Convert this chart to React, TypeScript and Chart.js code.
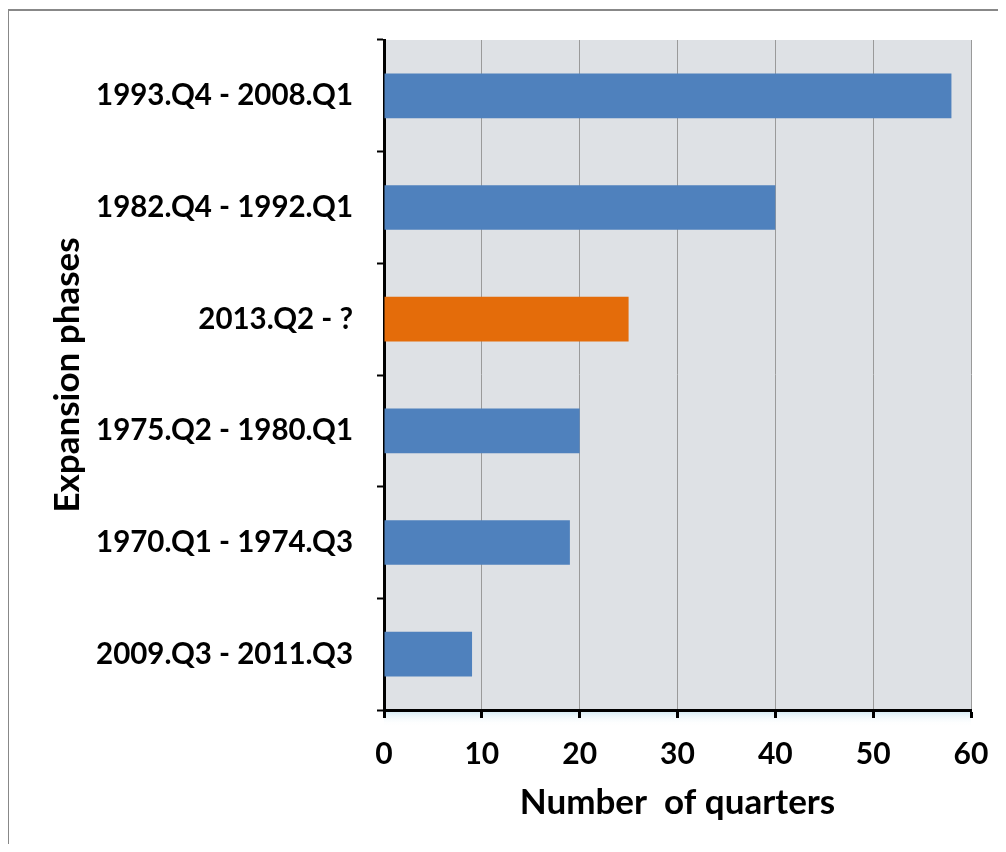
import React, { useEffect, useRef } from "react";
import { Chart, registerables } from "chart.js";

Chart.register(...registerables);

const categories = [
  "1993.Q4 - 2008.Q1",
  "1982.Q4 - 1992.Q1",
  "2013.Q2 - ?",
  "1975.Q2 - 1980.Q1",
  "1970.Q1 - 1974.Q3",
  "2009.Q3 - 2011.Q3",
];
const quarters = [58, 40, 25, 20, 19, 9];
const barColors = ["#4f81bd", "#4f81bd", "#e46c0a", "#4f81bd", "#4f81bd", "#4f81bd"];
const xTitle = "Number  of quarters";
const yTitle = "Expansion phases";

const FONT = "Lato, 'Open Sans', sans-serif";

const bgPlugin = {
  id: "plotBg",
  beforeDraw(chart: any) {
    const { ctx, chartArea } = chart;
    if (!chartArea) return;
    ctx.save();
    ctx.fillStyle = "#dee1e5";
    ctx.fillRect(chartArea.left, chartArea.top, chartArea.right - chartArea.left, chartArea.bottom - chartArea.top);
    const g = ctx.createLinearGradient(0, chartArea.bottom, 0, chartArea.bottom + 16);
    g.addColorStop(0, "rgba(200,228,240,0.9)");
    g.addColorStop(1, "rgba(255,255,255,0)");
    ctx.fillStyle = g;
    ctx.fillRect(chartArea.left, chartArea.bottom, chartArea.right - chartArea.left, 16);
    ctx.restore();
  },
};

export default function App() {
  const ref = useRef<HTMLCanvasElement | null>(null);
  useEffect(() => {
    if (!ref.current) return;
    const chart = new Chart(ref.current, {
      type: "bar",
      data: {
        labels: categories,
        datasets: [
          {
            data: quarters,
            backgroundColor: barColors,
            borderWidth: 0,
            barPercentage: 0.4,
            categoryPercentage: 1,
          },
        ],
      },
      plugins: [bgPlugin],
      options: {
        indexAxis: "y",
        animation: false,
        responsive: false,
        maintainAspectRatio: false,
        layout: { padding: { left: 0, top: 32, right: 27, bottom: 0 } },
        plugins: { legend: { display: false }, tooltip: { enabled: false } },
        scales: {
          x: {
            min: 0,
            max: 60,
            ticks: {
              stepSize: 10,
              color: "#000",
              padding: 18,
              font: { family: FONT, size: 30, weight: "bold" },
            },
            grid: {
              color: "#9a9a9a",
              lineWidth: 1,
              tickColor: "#000",
              tickWidth: 3,
              tickLength: 8,
            },
            border: { color: "#000", width: 3 },
            title: {
              display: true,
              text: xTitle,
              color: "#000",
              font: { family: FONT, size: 35, weight: "bold" },
              padding: { top: 0, bottom: 20 },
            },
            afterFit: (scale: any) => {
              scale.height = 134;
              scale.paddingLeft = 0;
              scale.paddingRight = 0;
            },
          },
          y: {
            ticks: {
              color: "#000",
              padding: 24,
              font: { family: FONT, size: 29.5, weight: "bold" },
            },
            grid: {
              offset: true,
              drawOnChartArea: false,
              color: "#000",
              tickColor: "#000",
              tickWidth: 2,
              tickLength: 7,
            },
            border: { color: "#000", width: 3 },
            title: {
              display: true,
              text: yTitle,
              color: "#000",
              font: { family: FONT, size: 35, weight: "bold" },
              padding: { top: 39, bottom: 0 },
            },
            afterFit: (scale: any) => {
              scale.width = 376;
              scale.paddingTop = 0;
              scale.paddingBottom = 0;
            },
          },
        },
      },
    } as any);
    return () => chart.destroy();
  }, []);
  return (
    <div style={{ position: "relative", width: 990, height: 836 }}>
      <canvas ref={ref} width={990} height={836} style={{ position: "absolute", left: 0, top: 0, width: 990, height: 836 }} />
      <div
        style={{
          position: "absolute",
          left: -1,
          top: 1,
          width: 1000,
          height: 900,
          borderLeft: "2px solid #888",
          borderTop: "2px solid #888",
          pointerEvents: "none",
          boxSizing: "border-box",
        }}
      />
    </div>
  );
}
